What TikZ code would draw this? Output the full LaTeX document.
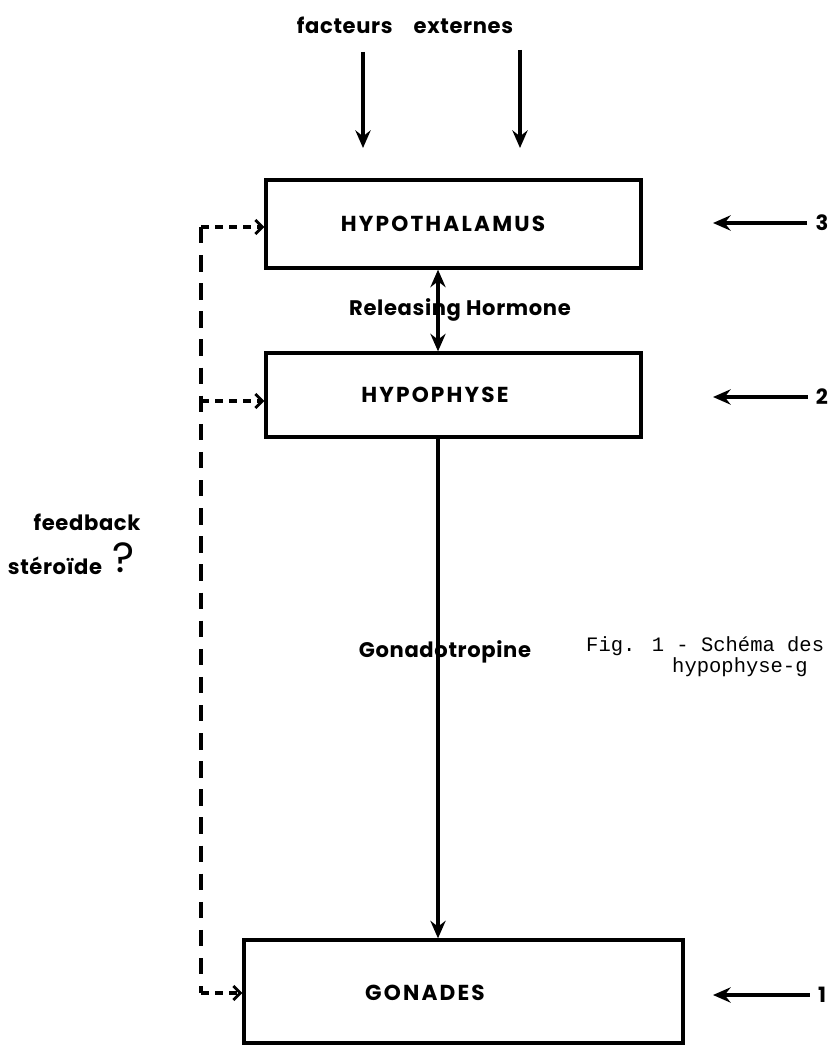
\documentclass[tikz,border=0pt]{standalone}
\usepackage{fontspec}
\newfontfamily\labfont{Poppins}[LetterSpace=3]
\newfontfamily\capsfont{Poppins}[LetterSpace=10]
\newfontfamily\typefont{Liberation Mono}
\usetikzlibrary{arrows.meta}

\begin{document}
\begin{tikzpicture}[x=0.03cm,y=-0.03cm,
    organ/.style={draw,line width=2.8pt,inner sep=0pt},
    lab/.style={font=\labfont\bfseries\fontsize{18}{21}\selectfont,inner sep=1pt},
    caps/.style={font=\capsfont\bfseries\fontsize{18.5}{21}\selectfont,inner sep=1pt},
    flow/.style={line width=2.8pt,-{Stealth[length=15pt,width=13pt,inset=5pt]}},
    fb/.style={line width=2.6pt,dash pattern=on 14pt off 10pt},
    fbin/.style={line width=2.6pt,dash pattern=on 7pt off 5pt,-{Straight Barb[length=6pt,width=12pt,line width=2.4pt]}},
    captxt/.style={font=\typefont\fontsize{17.5}{21}\selectfont,anchor=west,inner sep=0pt}]
    \useasboundingbox (0,0) rectangle (830,1046);
    \node[organ,minimum width=11.25cm,minimum height=2.64cm] (hyt) at (453.5,224) {};
    \node[organ,minimum width=11.25cm,minimum height=2.52cm] (hyp) at (453.5,395) {};
    \node[organ,minimum width=13.17cm,minimum height=3.09cm] (gon) at (463.5,991.5) {};
    \node[caps] (hyt-txt) at (443,224) {HYPOTHALAMUS};
    \node[caps] (hyp-txt) at (435,395) {HYPOPHYSE};
    \node[caps] (gon-txt) at (425,993) {GONADES};
    \node[lab] (ext) at (405,25) {facteurs\quad externes};
    \coordinate (e1) at (363,52);
    \coordinate (e2) at (520,50);
    \draw[flow] (e1) -- (e1 |- 0,148);
    \draw[flow] (e2) -- (e2 |- 0,148);
    \coordinate (axis) at (438,0);
    \node[lab] (rh) at (460,310) {Releasing Hormone};
    \draw[line width=2.8pt,{Stealth[length=15pt,width=13pt,inset=5pt]}-{Stealth[length=15pt,width=13pt,inset=5pt]}] (axis |- hyt.south) -- (axis |- hyp.north);
    \node[lab] (gt) at (445,652) {Gonadotropine};
    \draw[flow] (axis |- hyp.south) -- (axis |- gon.north);
    \coordinate (ftop) at (201,227);
    \coordinate (fmid) at (201,401);
    \coordinate (fbot) at (201,993);
    \draw[fb] (ftop) -- (fbot);
    \draw[fbin] (ftop) -- (ftop -| hyt.west);
    \draw[fbin] (fmid) -- (fmid -| hyp.west);
    \draw[fbin] (fbot) -- (fbot -| gon.west);
    \node[lab] (fbk) at (87,522) {feedback};
    \node[lab] (ster) at (55,566) {stéroïde};
    \node[font=\labfont\fontsize{36}{38}\selectfont,inner sep=0pt] (q) at (124,558) {?};
    \node[lab] (n3) at (822,223) {3};
    \node[lab] (n2) at (822,397) {2};
    \node[lab] (n1) at (822,995) {1};
    \draw[flow,shorten <=6pt] (n3) -- (713,223);
    \draw[flow,shorten <=6pt] (n2) -- (713,397);
    \draw[flow,shorten <=6pt] (n1) -- (713,995);
    \node[captxt] (cap1) at (586,646) {Fig. 1 - Schéma des};
    \node[captxt] (cap2) at (672,667) {hypophyse-g};
\end{tikzpicture}
\end{document}
